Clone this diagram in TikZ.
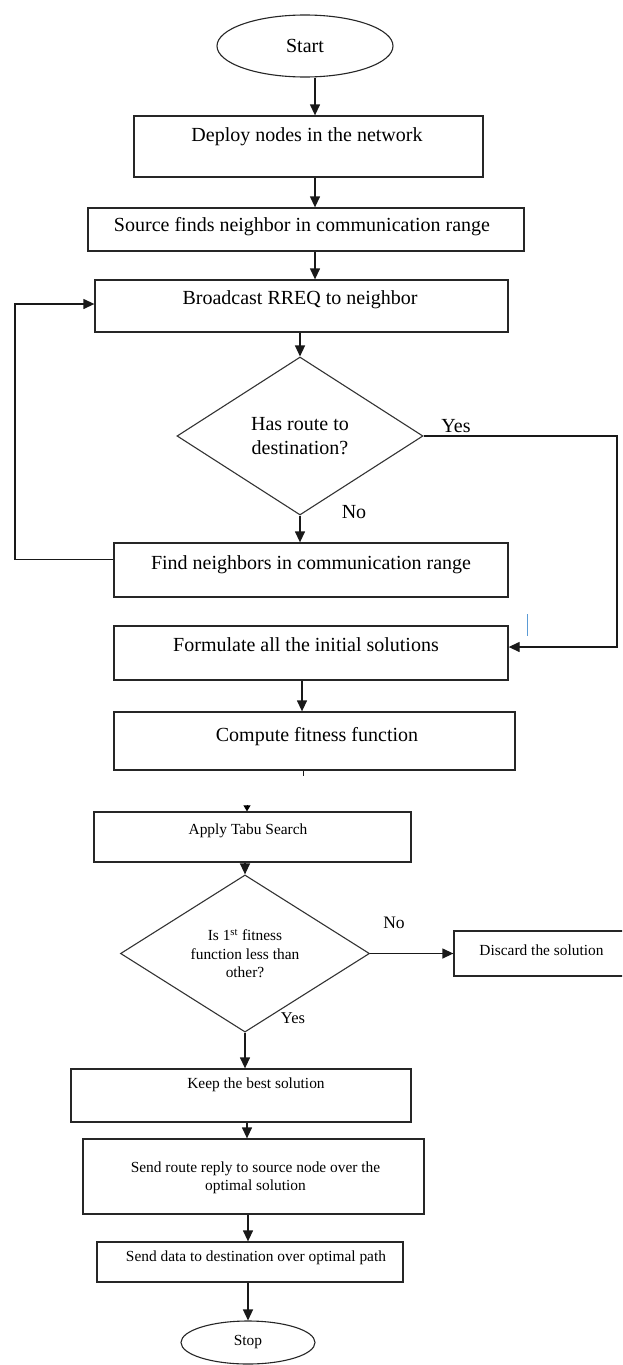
\documentclass[tikz,border=0pt]{standalone}
\usepackage{fontspec}
\setmainfont{Liberation Serif}
\usetikzlibrary{shapes.geometric,arrows.meta}
\newcommand\fbig{\fontsize{20}{24}\selectfont}
\newcommand\fsmall{\fontsize{15.4}{18.5}\selectfont}
\tikzset{
  box/.style={draw=black!85, line width=1.3pt, rectangle, inner sep=0pt},
  txt/.style={inner sep=0pt, text height=0.7em, text depth=0.2em},
  ell/.style={draw=black!85, line width=1.1pt, ellipse, inner sep=0pt},
  dia/.style={draw=black!80, line width=1.1pt, diamond, inner sep=0pt, align=center},
  arr/.style={-{Triangle[length=11pt,width=10pt]}, line width=1.3pt, draw=black!90},
  lnk/.style={line width=1.3pt, draw=black!90},
}
\begin{document}
\begin{tikzpicture}[x=1pt,y=-1pt]
\path[use as bounding box, fill=white] (0,0) rectangle (622,1365);
\clip (0,0) rectangle (622,1365);
% nodes
\node[ell, minimum width=176pt, minimum height=62pt, font=\fbig] (start) at (305,46) {Start};
\node[box, minimum width=349pt, minimum height=61pt] (deploy) at (308.5,146.5) {};
\node[txt, font=\fbig] (deployT) at (307,139) {Deploy nodes in the network};
\node[box, minimum width=436pt, minimum height=43pt] (source) at (306,229.5) {};
\node[txt, font=\fbig] (sourceT) at (302,229) {Source finds neighbor in communication range};
\node[box, minimum width=413pt, minimum height=52pt] (bcast) at (301.5,306) {};
\node[txt, font=\fbig] (bcastT) at (300,302) {Broadcast RREQ to neighbor};
\node[dia, minimum width=246pt, minimum height=158pt, font=\fbig] (d1) at (300,436) {Has route to\\destination?};
\node[box, minimum width=394pt, minimum height=54pt] (find) at (311,570) {};
\node[txt, font=\fbig] (findT) at (311,567) {Find neighbors in communication range};
\node[box, minimum width=394pt, minimum height=54pt] (formulate) at (311,653) {};
\node[txt, font=\fbig] (formT) at (306,649) {Formulate all the initial solutions};
\node[box, minimum width=401pt, minimum height=58pt] (compute) at (314.5,741) {};
\node[txt, font=\fbig] (compT) at (317,739) {Compute fitness function};
\node[box, minimum width=317pt, minimum height=50pt] (apply) at (252.5,837) {};
\node[txt, font=\fsmall] (applyT) at (248,832) {Apply Tabu Search};
\node[dia, minimum width=249pt, minimum height=139pt, font=\fsmall] (d2) at (245,953.5) {Is 1\textsuperscript{st} fitness\\function less than\\other?};
\node[box, minimum width=175pt, minimum height=45pt] (discard) at (541.5,953.5) {};
\node[txt, font=\fsmall] (discardT) at (541.5,953) {Discard the solution};
\node[box, minimum width=340pt, minimum height=53pt] (keep) at (241,1095.5) {};
\node[txt, font=\fsmall] (keepT) at (256,1086) {Keep the best solution};
\node[box, minimum width=341pt, minimum height=75pt] (route) at (253.5,1176.5) {};
\node[txt, font=\fsmall, align=center, text height=, text depth=] (routeT) at (255.5,1178) {Send route reply to source node over the\\optimal solution};
\node[box, minimum width=306pt, minimum height=40pt] (data) at (250,1262) {};
\node[txt, font=\fsmall] (dataT) at (256,1259) {Send data to destination over optimal path};
\node[ell, minimum width=134pt, minimum height=43pt, font=\fsmall] (stop) at (248,1342.5) {Stop};
% labels
\node[txt, font=\fbig] (yes1) at (456,430) {Yes};
\node[txt, font=\fbig] (no1) at (354,516) {No};
\node[txt, font={\fontsize{17.5}{20}\selectfont}] (no2) at (394,926) {No};
\node[txt, font={\fontsize{16.5}{20}\selectfont}] (yes2) at (293,1021) {Yes};
% helper coordinates
\coordinate (loopL) at (15,0);
\coordinate (yesR) at (617,0);
% connectors
\draw[arr] ([xshift=10pt]start.south) -- ([xshift=6.5pt]deploy.north);
\draw[arr] ([xshift=6.5pt]deploy.south) -- ([xshift=9pt]source.north);
\draw[arr] ([xshift=9pt]source.south) -- ([xshift=13.5pt]bcast.north);
\draw[arr] ([xshift=-1.5pt]bcast.south) -- (d1.north);
\draw[arr] (d1.south) -- (d1.south |- find.north);
\draw[arr] ([yshift=10.5pt]find.west) -- ([yshift=10.5pt]find.west -| loopL) -- ([yshift=2pt]bcast.west -| loopL) -- ([yshift=2pt]bcast.west);
\draw[arr] (d1.east) -- (d1.east -| yesR) -- ([yshift=6pt]formulate.east -| yesR) -- ([yshift=6pt]formulate.east);
\draw[arr] ([xshift=-9pt]formulate.south) -- ([xshift=-9pt]formulate.south |- compute.north);
\draw[lnk, line width=1pt] ([xshift=-11.5pt]compute.south) -- ([xshift=-11.5pt,yshift=-5pt]compute.south);
\draw[-{Triangle[length=6pt,width=7pt]}, line width=1pt] ([xshift=-5.5pt,yshift=6.5pt]apply.north) -- ([xshift=-5.5pt]apply.north);
\draw[arr] ([xshift=-7.5pt]apply.south) -- (d2.north);
\draw[arr] (d2.east) -- (d2.east -| discard.west);
\draw[arr] (d2.south) -- (d2.south |- keep.north);
\draw[arr] ([xshift=6pt]keep.south) -- ([xshift=-6.5pt]route.north);
\draw[arr] ([xshift=-5.5pt]route.south) -- ([xshift=-2pt]data.north);
\draw[arr] ([xshift=-2pt]data.south) -- (stop.north);
% stray blue mark
\draw[color={rgb,255:red,91;green,155;blue,213}, line width=1pt] ([xshift=19pt,yshift=11pt]formulate.north east) -- ([xshift=19pt,yshift=-11pt]formulate.north east);
\end{tikzpicture}
\end{document}
